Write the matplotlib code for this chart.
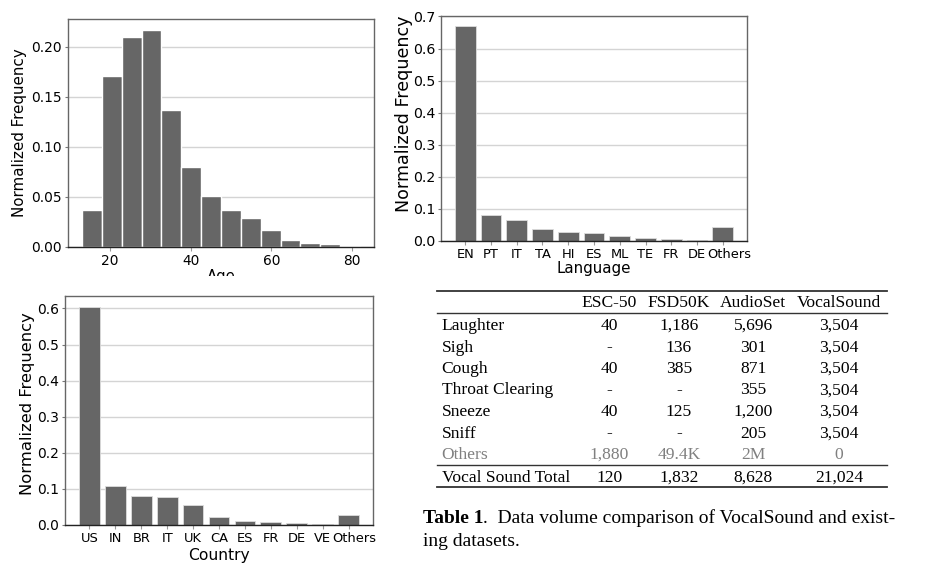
import numpy as np
import matplotlib
matplotlib.use("Agg")
import matplotlib.pyplot as plt
from matplotlib.lines import Line2D
from matplotlib.patches import Rectangle
from matplotlib.transforms import ScaledTranslation

# ---------------- data ----------------
age_edges = np.linspace(13, 82, 15)
age_freq = [0.037, 0.171, 0.210, 0.217, 0.137, 0.080, 0.051, 0.037, 0.029,
            0.017, 0.007, 0.004, 0.003, 0.0005]

lang_labels = ["EN", "PT", "IT", "TA", "HI", "ES", "ML", "TE", "FR", "DE", "Others"]
lang_freq = [0.669, 0.081, 0.066, 0.035, 0.026, 0.023, 0.0135, 0.0085, 0.006, 0.002, 0.0436]

country_labels = ["US", "IN", "BR", "IT", "UK", "CA", "ES", "FR", "DE", "VE", "Others"]
country_freq = [0.605, 0.107, 0.081, 0.0766, 0.0545, 0.0212, 0.011, 0.0074, 0.0055, 0.002, 0.0277]

table_cols = ["ESC-50", "FSD50K", "AudioSet", "VocalSound"]
table_rows = ["Laughter", "Sigh", "Cough", "Throat Clearing", "Sneeze", "Sniff", "Others"]
table_vals = [
    ["40", "1,186", "5,696", "3,504"],
    ["-", "136", "301", "3,504"],
    ["40", "385", "871", "3,504"],
    ["-", "-", "355", "3,504"],
    ["40", "125", "1,200", "3,504"],
    ["-", "-", "205", "3,504"],
    ["1,880", "49.4K", "2M", "0"],
]
total_label = "Vocal Sound Total"
total_vals = ["120", "1,832", "8,628", "21,024"]
caption_bold = "Table 1"
caption_line1 = ".  Data volume comparison of VocalSound and exist-"
caption_line2 = "ing datasets."

# ---------------- figure ----------------
W, H = 937, 583
fig = plt.figure(figsize=(W / 100, H / 100), dpi=100)
fig.patch.set_facecolor("white")

BAR = "#666666"
GRID = "#d4d4d4"


def add_ax(l, r, t, b):
    return fig.add_axes([l / W, 1 - b / H, (r - l) / W, (b - t) / H])


def style(ax, ylabel_x, ylabel_y, ylabel_fs, ytick_fs, xtick_fs):
    ax.set_axisbelow(True)
    ax.yaxis.grid(True, color=GRID, linewidth=1.0)
    for s in ["top", "right", "left"]:
        ax.spines[s].set_color("#666666")
        ax.spines[s].set_linewidth(1.0)
    ax.spines["bottom"].set_color("#222222")
    ax.spines["bottom"].set_linewidth(1.0)
    ax.tick_params(axis="y", length=2.5, pad=1.8, labelsize=ytick_fs, color="#777777")
    ax.tick_params(axis="x", length=3, pad=2, labelsize=xtick_fs, color="#999999")
    ax.set_ylabel("Normalized Frequency", fontsize=ylabel_fs)
    ax.yaxis.set_label_coords(ylabel_x, ylabel_y)


def shift_last_label(ax, px):
    lbl = ax.get_xticklabels()[-1]
    lbl.set_transform(lbl.get_transform() +
                      ScaledTranslation(px / 100, 0, fig.dpi_scale_trans))


# Age histogram
ax1 = add_ax(68, 374, 19, 247)
ax1.hist(age_edges[:-1], bins=age_edges, weights=age_freq, color=BAR,
         edgecolor="white", linewidth=1.0)
ax1.set_yticks([0.0, 0.05, 0.10, 0.15, 0.20])
ax1.set_yticklabels(["0.00", "0.05", "0.10", "0.15", "0.20"])
ax1.set_xticks([20, 40, 60, 80])
style(ax1, -0.133, 0.5, 10.9, 9.9, 9.9)
ax1.set_xlabel("Age", fontsize=10.6, labelpad=1)

# Language
ax2 = add_ax(441, 747, 15.7, 240.7)
ax2.bar(range(len(lang_labels)), lang_freq, width=0.8, color=BAR,
        edgecolor="#dddddd", linewidth=0.6)
ax2.set_xticks(range(len(lang_labels)))
ax2.set_xticklabels(lang_labels)
ax2.set_yticks([0.0, 0.1, 0.2, 0.3, 0.4, 0.5, 0.6, 0.7])
style(ax2, -0.09, 0.565, 12.6, 10.2, 9.4)
ax2.set_xlabel("Language", fontsize=10.9, labelpad=0)
shift_last_label(ax2, 6)

# Country
ax3 = add_ax(65, 373, 295.7, 525)
ax3.bar(range(len(country_labels)), country_freq, width=0.8, color=BAR,
        edgecolor="#dddddd", linewidth=0.6)
ax3.set_xticks(range(len(country_labels)))
ax3.set_xticklabels(country_labels)
ax3.set_yticks([0.0, 0.1, 0.2, 0.3, 0.4, 0.5, 0.6])
style(ax3, -0.098, 0.528, 11.8, 10.0, 9.4)
ax3.set_xlabel("Country", fontsize=11.2, labelpad=2)
shift_last_label(ax3, 6)

# white band that clips the x-labels of the top row
fig.patches.append(Rectangle((0, 1 - 289 / H), 780 / W, 13.5 / H,
                             transform=fig.transFigure, facecolor="white",
                             edgecolor="none", zorder=10))

# ---------------- table ----------------
SERIF = ["Liberation Serif", "DejaVu Serif"]
TFS = 12.6


def fx(x):
    return x / W


def fy(y):
    return 1 - y / H


col_x = [609.3, 679, 753.3, 839]
label_x = 441.7
header_base = 306.7
row_base0 = 330.0
row_step = 21.5
total_base = 481.5

for cx, name in zip(col_x, table_cols):
    fig.text(fx(cx), fy(header_base), name, ha="center", va="baseline",
             fontsize=TFS, family=SERIF, color="black")

for i, (rname, vals) in enumerate(zip(table_rows, table_vals)):
    yb = row_base0 + i * row_step
    col = "#808080" if rname == "Others" else "black"
    fig.text(fx(label_x), fy(yb), rname, ha="left", va="baseline",
             fontsize=TFS, family=SERIF, color=col)
    for cx, v in zip(col_x, vals):
        fig.text(fx(cx), fy(yb), v, ha="center", va="baseline",
                 fontsize=TFS, family=SERIF, color=col)

fig.text(fx(label_x), fy(total_base), total_label, ha="left", va="baseline",
         fontsize=TFS, family=SERIF, color="black")
for cx, v in zip(col_x, total_vals):
    fig.text(fx(cx), fy(total_base), v, ha="center", va="baseline",
             fontsize=TFS, family=SERIF, color="black")

for yy, lw in [(291, 1.3), (312.7, 1.0), (465, 1.0), (487.3, 1.3)]:
    fig.add_artist(Line2D([fx(436.7), fx(886.7)], [fy(yy), fy(yy)],
                          transform=fig.transFigure, color="#333333", linewidth=lw))

# caption
CFS = 14.0
tb = fig.text(fx(422.7), fy(523.3), caption_bold, ha="left", va="baseline",
              fontsize=CFS, family=SERIF, weight="bold", color="black")
fig.canvas.draw()
bb = tb.get_window_extent(renderer=fig.canvas.get_renderer())
fig.text(bb.x1 / W, fy(523.3), caption_line1, ha="left", va="baseline",
         fontsize=CFS, family=SERIF, color="black")
fig.text(fx(422.7), fy(546.5), caption_line2, ha="left", va="baseline",
         fontsize=CFS, family=SERIF, color="black")

fig.savefig("out.png", dpi=100, facecolor="white")
